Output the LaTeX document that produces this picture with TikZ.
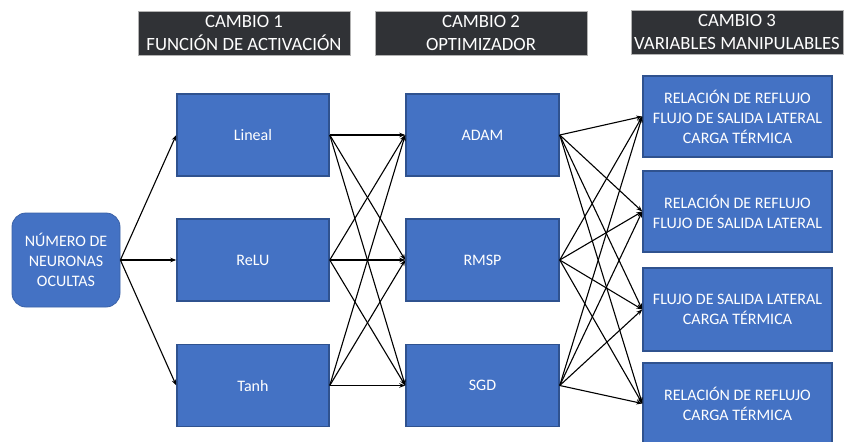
\documentclass[tikz,border=0pt]{standalone}
\usepackage{fontspec}
\setmainfont{Carlito}
\usetikzlibrary{positioning,arrows.meta}
\definecolor{boxblue}{HTML}{4472C4}
\definecolor{boxedge}{HTML}{2F528F}
\definecolor{headgray}{HTML}{303236}

\begin{document}
\begin{tikzpicture}[
    x=1pt, y=-1pt,
    box/.style={draw=boxedge, line width=1.5pt, fill=boxblue, text=white, align=center, inner sep=0pt, font=\fontsize{16}{20}\selectfont},
    actbox/.style={box, minimum width=152pt, minimum height=82pt},
    varbox/.style={box, minimum width=189pt, minimum height=81pt},
    headbox/.style={fill=headgray, draw=gray!60, line width=0.5pt, text=white, align=center, minimum width=212pt, minimum height=44pt, inner sep=0pt, font=\fontsize{18.7}{23}\selectfont},
    link/.style={-{Stealth[length=6pt,width=4.5pt]}, line width=1.1pt}
]
\useasboundingbox (0,0) rectangle (844,442);

% headers
\node[headbox] (head1) at (244,33) {CAMBIO 1\\FUNCIÓN DE ACTIVACIÓN};
\node[headbox] (head2) at (481,33) {CAMBIO 2\\OPTIMIZADOR};
\node[headbox] (head3) at (737,32) {CAMBIO 3\\VARIABLES MANIPULABLES};

% input
\node[box, rounded corners=14pt, line width=0.8pt, draw=boxblue!85!black, minimum width=108pt, minimum height=94pt] (neur) at (66,260) {NÚMERO DE\\NEURONAS\\OCULTAS};

% cambio 1
\node[actbox] (lin) at (253,135) {Lineal};
\node[actbox] (relu) at (253,260) {ReLU};
\node[actbox] (tanh) at (253,385.5) {Tanh};

% cambio 2
\node[actbox, minimum width=153pt] (adam) at (482.5,135) {ADAM};
\node[actbox, minimum width=153pt] (rmsp) at (482.5,260) {RMSP};
\node[actbox, minimum width=153pt] (sgd) at (482.5,385.5) {SGD};

% cambio 3
\node[varbox] (var1) at (737.5,116.5) {RELACIÓN DE REFLUJO\\FLUJO DE SALIDA LATERAL\\CARGA TÉRMICA};
\node[varbox] (var2) at (737.5,211.5) {RELACIÓN DE REFLUJO\\FLUJO DE SALIDA LATERAL};
\node[varbox, minimum height=83pt] (var3) at (737.5,309.5) {FLUJO DE SALIDA LATERAL\\CARGA TÉRMICA};
\node[varbox] (var4) at (737.5,403.5) {RELACIÓN DE REFLUJO\\CARGA TÉRMICA};

% connections
\foreach \a in {lin,relu,tanh}
    \draw[link] (neur.east) -- (\a.west);
\foreach \a in {lin,relu,tanh}
    \foreach \b in {adam,rmsp,sgd}
        \draw[link] (\a.east) -- (\b.west);
\foreach \a in {adam,rmsp,sgd}
    \foreach \b in {var1,var2,var3,var4}
        \draw[link] (\a.east) -- (\b.west);
\end{tikzpicture}
\end{document}
